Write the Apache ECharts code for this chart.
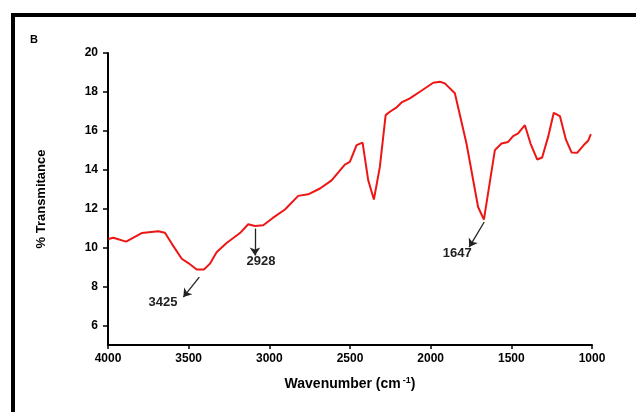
<!DOCTYPE html>
<html>
<head>
<meta charset="utf-8">
<script src="https://cdn.jsdelivr.net/npm/echarts@6/dist/echarts.min.js"></script>
<style>
html,body{margin:0;padding:0;background:#fff;}
#chart{width:636px;height:412px;}
</style>
</head>
<body>
<div id="chart"></div>
<script>
// Data
const wavenumber = [3998,3967,3888,3791,3688,3647,3605,3543,3502,3450,3405,3368,3327,3265,3182,3131,3089,3038,2976,2903,2821,2759,2686,2614,2532,2501,2459,2422,2387,2352,2315,2279,2253,2211,2180,2129,2067,1984,1943,1912,1850,1778,1706,1670,1602,1561,1520,1489,1458,1416,1381,1340,1309,1272,1237,1199,1162,1127,1092,1051,1024,1007];
const transmittance = [10.45,10.51,10.31,10.75,10.84,10.77,10.21,9.43,9.21,8.88,8.88,9.18,9.77,10.24,10.75,11.20,11.11,11.15,11.54,11.96,12.66,12.74,13.04,13.46,14.27,14.41,15.27,15.40,13.46,12.47,14.15,16.81,16.98,17.21,17.46,17.67,18.01,18.47,18.52,18.44,17.93,15.35,12.09,11.44,15.01,15.35,15.43,15.73,15.87,16.29,15.35,14.53,14.63,15.69,16.93,16.76,15.56,14.89,14.87,15.27,15.49,15.83];
const yTicks = [6,8,10,12,14,16,18,20];
// Annotations: label, arrow start, arrow end, label position (data coords)
const annLabels = ['3425','2928','1647'];
const arrowFrom = [[3434,8.49],[3089,10.98],[1668,11.32]];
const arrowTo = [[3533,7.46],[3089,9.60],[1761,10.03]];
const labelAt = [[3659,7.2],[3052,9.31],[1835,9.69]];

const chart = echarts.init(document.getElementById('chart'), null, {renderer:'canvas'});
const FONT = '"Liberation Sans", Arial, sans-serif';
chart.setOption({
  animation:false,
  backgroundColor:'#fff',
  grid:{left:108,right:44,top:53,bottom:67,containLabel:false},
  graphic:[
    {type:'rect',shape:{x:13,y:15,width:720,height:520},style:{fill:'none',stroke:'#000',lineWidth:4},silent:true},
    {type:'text',left:30,top:34,style:{text:'B',font:'bold 11px '+FONT,fill:'#000'},silent:true}
  ],
  xAxis:{
    type:'value',inverse:true,min:1000,max:4000,interval:500,
    name:'{a|Wavenumber (cm}{s|-1}{a|)}',nameLocation:'middle',nameGap:31,
    nameTextStyle:{rich:{a:{fontFamily:FONT,fontWeight:'bold',fontSize:14,color:'#000'},s:{fontFamily:FONT,fontWeight:'bold',fontSize:9,color:'#000',verticalAlign:'top',padding:[0,0,8,2]}}},
    axisLine:{lineStyle:{color:'#000',width:2}},
    axisTick:{show:true,length:4,lineStyle:{color:'#000',width:1.5}},
    axisLabel:{fontFamily:FONT,fontWeight:'bold',fontSize:12,color:'#000',margin:8,formatter:v=>String(v)},
    splitLine:{show:false}
  },
  yAxis:{
    type:'value',min:5,max:20,
    name:'% Transmitance',nameLocation:'middle',nameGap:60,nameRotate:90,
    nameTextStyle:{fontFamily:FONT,fontWeight:'bold',fontSize:13,color:'#000'},
    axisLine:{show:true,lineStyle:{color:'#000',width:2}},
    axisTick:{show:true,length:5,customValues:yTicks,lineStyle:{color:'#000',width:1.5}},
    axisLabel:{fontFamily:FONT,fontWeight:'bold',fontSize:12,color:'#000',margin:10,customValues:yTicks,formatter:v=>String(v)},
    splitLine:{show:false}
  },
  series:[{
    type:'line',
    data:wavenumber.map((w,i)=>[w,transmittance[i]]),
    showSymbol:false,smooth:false,
    lineStyle:{color:'#ee1515',width:2},
    itemStyle:{color:'#ee1515'},
    markLine:{
      silent:true,symbol:['none','arrow'],symbolSize:8,
      lineStyle:{color:'#222',width:1.3,type:'solid'},
      label:{show:false},
      data:arrowFrom.map((f,i)=>[{coord:f},{coord:arrowTo[i]}])
    },
    markPoint:{
      silent:true,symbol:'circle',symbolSize:0,
      label:{show:true,position:'inside',fontFamily:FONT,fontWeight:'bold',fontSize:13,color:'#222'},
      data:labelAt.map((p,i)=>({coord:p,value:annLabels[i],label:{formatter:annLabels[i]}}))
    }
  }]
});
</script>
</body>
</html>
